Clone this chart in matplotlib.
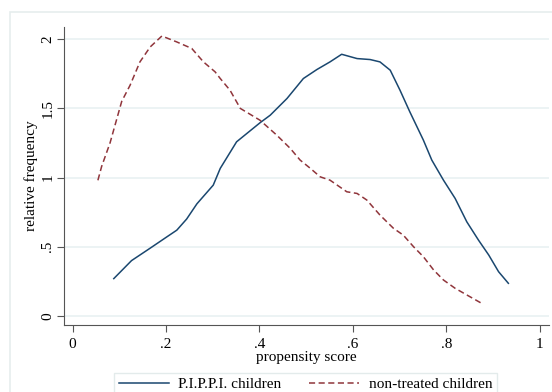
import matplotlib.pyplot as plt
from matplotlib.patches import Rectangle

plt.rcParams['font.family'] = ['Liberation Serif', 'DejaVu Serif']

# P.I.P.P.I. children (treated)
x_pippi = [0.088, 0.126, 0.166, 0.201, 0.223, 0.244, 0.266, 0.301, 0.316, 0.351,
           0.401, 0.423, 0.459, 0.494, 0.523, 0.551, 0.576, 0.609, 0.637, 0.658,
           0.680, 0.701, 0.722, 0.751, 0.769, 0.794, 0.819, 0.844, 0.869, 0.891,
           0.912, 0.933]
y_pippi = [0.27, 0.40, 0.49, 0.57, 0.62, 0.70, 0.81, 0.945, 1.066, 1.258,
           1.395, 1.45, 1.571, 1.715, 1.78, 1.835, 1.89, 1.859, 1.852, 1.835,
           1.775, 1.63, 1.474, 1.27, 1.126, 0.981, 0.849, 0.68, 0.548, 0.44,
           0.32, 0.236]

# non-treated children
x_non = [0.054, 0.062, 0.080, 0.105, 0.123, 0.144, 0.166, 0.191, 0.223, 0.255,
         0.280, 0.305, 0.316, 0.337, 0.359, 0.401, 0.437, 0.466, 0.487, 0.509,
         0.530, 0.551, 0.587, 0.609, 0.630, 0.658, 0.687, 0.708, 0.730, 0.751,
         0.773, 0.794, 0.819, 0.844, 0.875]
y_non = [0.98, 1.08, 1.25, 1.55, 1.667, 1.835, 1.943, 2.022, 1.979, 1.932,
         1.835, 1.763, 1.715, 1.63, 1.499, 1.414, 1.306, 1.21, 1.126, 1.066,
         1.005, 0.981, 0.897, 0.885, 0.837, 0.729, 0.633, 0.584, 0.5, 0.428,
         0.332, 0.26, 0.2, 0.152, 0.093]

xticks = [0, 0.2, 0.4, 0.6, 0.8, 1]
xticklabels = ['0', '.2', '.4', '.6', '.8', '1']
yticks = [0, 0.5, 1, 1.5, 2]
yticklabels = ['0', '.5', '1', '1.5', '2']

blue = '#1a476f'
red = '#90353b'

fig = plt.figure(figsize=(5.52, 3.92), dpi=100)
fig.patches.append(Rectangle((10 / 552, -0.1), 1.2, 1 - 12 / 392 + 0.1,
                             transform=fig.transFigure, fill=False,
                             edgecolor='#e6eded', lw=1.2))
ax = fig.add_axes([64 / 552, 1 - 325 / 392, (549 - 64) / 552, (325 - 27) / 392])

ax.plot(x_pippi, y_pippi, color=blue, lw=1.1, label='P.I.P.P.I. children')
ax.plot(x_non, y_non, color=red, lw=1.1, linestyle=(0, (4, 2.3)),
        label='non-treated children')

ax.set_xlim(-0.0186, 1.02)
ax.set_ylim(-0.065, 2.087)
ax.set_xticks(xticks)
ax.set_xticklabels(xticklabels)
ax.set_yticks(yticks)
ax.set_yticklabels(yticklabels, rotation=90, va='center')
ax.tick_params(labelsize=11, length=5, color='#555555')
ax.tick_params(axis='x', pad=4)
ax.tick_params(axis='y', pad=2)
ax.grid(axis='y', color='#eaf2f3', lw=1.3)
ax.set_axisbelow(True)
for s in ['top', 'right']:
    ax.spines[s].set_visible(False)
for s in ['left', 'bottom']:
    ax.spines[s].set_color('#555555')

ax.set_xlabel('propensity score', fontsize=11, labelpad=0)
ax.set_ylabel('relative frequency', fontsize=11, labelpad=2)

fig.legend(loc='upper center', bbox_to_anchor=(305.5 / 552, 1 - 365 / 392),
           ncol=2, frameon=True, fancybox=False, edgecolor='#dde6e6',
           fontsize=11, handlelength=3.3, handletextpad=0.6, columnspacing=1.8,
           borderpad=0.3)

fig.savefig('out.png', dpi=100)
